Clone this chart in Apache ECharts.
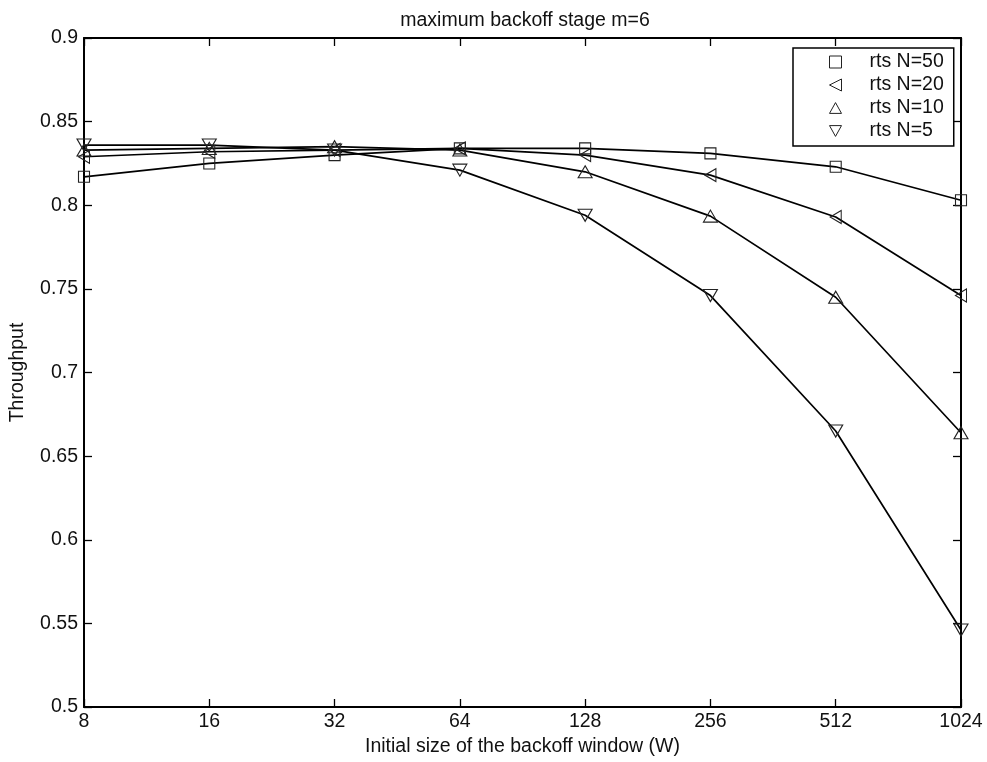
<!DOCTYPE html>
<html>
<head>
<meta charset="utf-8">
<script src="https://cdn.jsdelivr.net/npm/echarts@6/dist/echarts.min.js"></script>
<style>html,body{margin:0;padding:0;background:#fff;}#c{width:987px;height:762px;}</style>
</head>
<body>
<div id="c"></div>
<script>
const categories = ['8', '16', '32', '64', '128', '256', '512', '1024'];
const rtsN50 = [0.817, 0.825, 0.830, 0.834, 0.834, 0.831, 0.823, 0.803];
const rtsN20 = [0.829, 0.832, 0.833, 0.834, 0.830, 0.818, 0.793, 0.746];
const rtsN10 = [0.833, 0.834, 0.835, 0.833, 0.820, 0.7935, 0.745, 0.664];
const rtsN5  = [0.836, 0.836, 0.833, 0.821, 0.794, 0.746, 0.665, 0.546];
const seriesNames = ['rts N=50', 'rts N=20', 'rts N=10', 'rts N=5'];
const yTicks = { min: 0.5, max: 0.9, interval: 0.05 };

const FONT = 'Liberation Sans, Arial, sans-serif';
const FS = 19.5;
const symbols = [
  'path://M0,0L10,0L10,10L0,10Z',
  'path://M0,5L10,0L10,10Z',
  'path://M5,0L10,9L0,9Z',
  'path://M0,0L10,0L5,9Z'
];
const sizes = [[11, 11], [11, 13], [14, 12], [14, 12]];
const dataSets = [rtsN50, rtsN20, rtsN10, rtsN5];

const chart = echarts.init(document.getElementById('c'), null, { renderer: 'canvas' });

const axisCommon = {
  axisLine: { show: true, lineStyle: { color: '#000', width: 2 } },
  axisTick: { show: true, inside: true, length: 8, lineStyle: { color: '#000', width: 1.3 } },
  splitLine: { show: false }
};

chart.setOption({
  backgroundColor: '#fff',
  animation: false,
  title: {
    text: 'maximum backoff stage m=6',
    left: 520,
    top: 6,
    textAlign: 'center',
    textStyle: { fontFamily: FONT, fontSize: FS, fontWeight: 'normal', color: '#111' }
  },
  grid: { left: 83, right: 26, top: 38, bottom: 55, containLabel: false },
  legend: {
    orient: 'vertical',
    left: 793,
    top: 48,
    padding: [4, 10, 5, 36],
    itemGap: 3,
    itemWidth: 12,
    itemHeight: 12,
    borderColor: '#000',
    borderWidth: 1.5,
    backgroundColor: '#fff',
    itemStyle: { borderWidth: 1 },
    textStyle: { fontFamily: FONT, fontSize: FS, lineHeight: 20, color: '#111', padding: [0, 0, 0, 23] },
    data: seriesNames.map((n, i) => ({ name: n, icon: symbols[i] }))
  },
  xAxis: [
    Object.assign({
      type: 'category',
      data: categories,
      boundaryGap: false,
      position: 'bottom',
      name: 'Initial size of the backoff window (W)',
      nameLocation: 'middle',
      nameGap: 27,
      nameTextStyle: { fontFamily: FONT, fontSize: FS, color: '#111' },
      axisLabel: { fontFamily: FONT, fontSize: FS, color: '#111', margin: 5 }
    }, axisCommon),
    Object.assign({
      type: 'category',
      data: categories,
      boundaryGap: false,
      position: 'top',
      axisLabel: { show: false }
    }, axisCommon)
  ],
  yAxis: [
    Object.assign({
      type: 'value',
      min: yTicks.min, max: yTicks.max, interval: yTicks.interval,
      position: 'left',
      name: 'Throughput',
      nameLocation: 'middle',
      nameGap: 56,
      nameTextStyle: { fontFamily: FONT, fontSize: FS, color: '#111' },
      axisLabel: { fontFamily: FONT, fontSize: FS, color: '#111', margin: 6 }
    }, axisCommon),
    Object.assign({
      type: 'value',
      min: yTicks.min, max: yTicks.max, interval: yTicks.interval,
      position: 'right',
      axisLabel: { show: false }
    }, axisCommon)
  ],
  series: seriesNames.map((n, i) => ({
    name: n,
    type: 'line',
    data: dataSets[i],
    xAxisIndex: 0,
    yAxisIndex: 0,
    symbol: symbols[i],
    symbolSize: sizes[i],
    showAllSymbol: true,
    clip: false,
    lineStyle: { color: '#000', width: 1.7 },
    itemStyle: { color: 'rgba(255,255,255,0)', borderColor: '#222', borderWidth: 1.1 },
    emphasis: { disabled: true }
  }))
});
</script>
</body>
</html>
